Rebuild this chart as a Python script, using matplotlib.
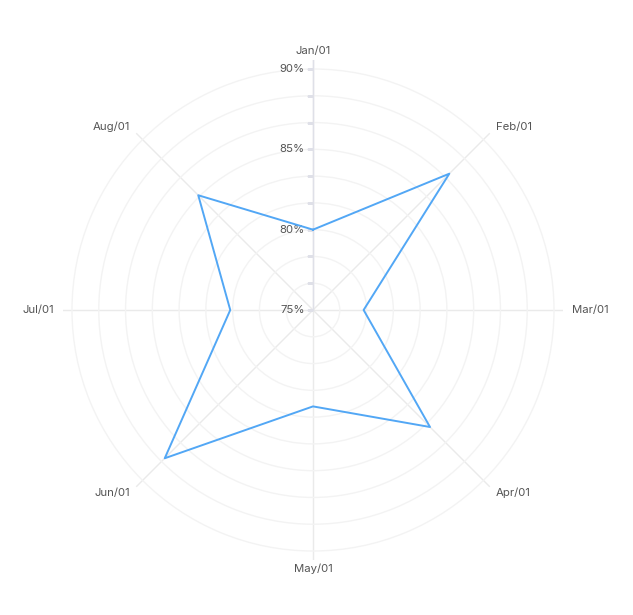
import numpy as np
import matplotlib
matplotlib.use("Agg")
import matplotlib.pyplot as plt
from matplotlib.transforms import offset_copy

plt.rcParams["font.family"] = ["Inter", "DejaVu Sans"]

months = ["Jan/01", "Feb/01", "Mar/01", "Apr/01", "May/01", "Jun/01", "Jul/01", "Aug/01"]
values = [80.0, 87.0, 78.15, 85.3, 81.0, 88.05, 80.15, 85.1]
grid_vals = [75 + k * 15 / 9 for k in range(1, 10)]
label_vals = [75, 80, 85, 90]

W, H = 633, 615
cx, cy, R = 313, 310, 250  # centre and radius in px
rmin, rmax = 75, 90.56

fig = plt.figure(figsize=(W / 100, H / 100), dpi=100)
ax = fig.add_axes([(cx - R) / W, (H - cy - R) / H, 2 * R / W, 2 * R / H], projection="polar")
ax.set_theta_zero_location("N")
ax.set_theta_direction(-1)
ax.set_ylim(rmin, rmax)

angles = np.arange(len(months)) * 2 * np.pi / len(months)

ax.set_xticks(angles)
ax.set_xticklabels([])
ax.set_yticks(grid_vals)
ax.set_yticklabels([])
ax.xaxis.grid(True, color="#eaeaea", linewidth=1)
ax.yaxis.grid(True, color="#f3f3f3", linewidth=1)
ax.spines["polar"].set_visible(False)
ax.tick_params(length=0)

# radial axis line along Jan
ax.plot([0, 0], [rmin, rmax], color="#dfe0e8", linewidth=1, zorder=2)
tick_marker = [(-1, 0), (0, 0)]
ax.plot(np.zeros(len(grid_vals) + 1), [rmin] + grid_vals, linestyle="none",
        marker=tick_marker, markersize=8.6, markeredgecolor="#dfe0e8",
        markeredgewidth=1, zorder=2)

off = offset_copy(ax.transData, fig=fig, x=-8, y=0, units="dots")
for v in label_vals:
    ax.text(0, v, f"{v}%", transform=off, ha="right", va="center",
            fontsize=8.2, color="#555555")

# data polygon
a = np.append(angles, angles[0])
vv = np.append(values, values[0])
ax.plot(a, vv, color="#52a7f5", linewidth=1.4, zorder=3)

# category labels
r_lab = rmin + 259 / (241 / 15)
for ang, m in zip(angles, months):
    s = np.sin(ang)
    ha = "center" if abs(s) < 1e-6 else ("left" if s > 0 else "right")
    ax.text(ang, r_lab, m, ha=ha, va="center", fontsize=8.2, color="#555555")

fig.savefig("out.png", dpi=100, facecolor="white")
